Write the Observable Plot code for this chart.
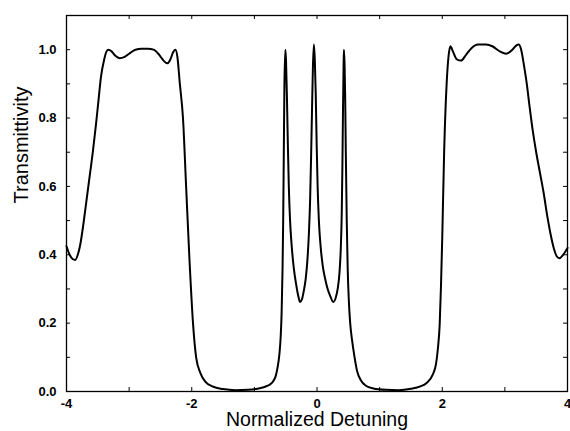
<!DOCTYPE html>
<html>
<head>
<meta charset="utf-8">
<script src="https://cdn.jsdelivr.net/npm/d3@7"></script>
<script src="https://cdn.jsdelivr.net/npm/@observablehq/plot@0.6"></script>
<style>
  html, body { margin: 0; padding: 0; background: white; }
</style>
</head>
<body>
<div id="chart"></div>
<script>
const detuning = [
  -4.00, -3.95, -3.90, -3.86, -3.82, -3.78, -3.73, -3.68, -3.63, -3.58, -3.53, -3.49, -3.45, -3.40, -3.36, -3.33,
  -3.28, -3.22, -3.15, -3.08, -3.00, -2.90, -2.80, -2.70, -2.61, -2.52, -2.45, -2.39, -2.34, -2.30, -2.26,
  -2.23, -2.19, -2.14, -2.09, -2.04, -1.98, -1.93, -1.86, -1.78, -1.67, -1.50, -1.30, -1.10, -0.90, -0.80, -0.74,
  -0.70, -0.66, -0.63, -0.60, -0.58, -0.565, -0.55, -0.54, -0.53, -0.52, -0.505, -0.495, -0.48, -0.465, -0.45, -0.43, -0.41,
  -0.37, -0.33, -0.30, -0.27, -0.24, -0.21, -0.18, -0.155, -0.13, -0.11, -0.095, -0.08, -0.065, -0.05,
  -0.035, -0.02, -0.005, 0.01, 0.03, 0.06, 0.09, 0.13, 0.17, 0.21, 0.26, 0.30, 0.33, 0.36, 0.38, 0.395, 0.405, 0.415, 0.425, 0.43,
  0.44, 0.45, 0.46, 0.475, 0.49, 0.51, 0.53, 0.56, 0.60, 0.64, 0.70, 0.78, 0.90, 1.10, 1.30, 1.50, 1.65, 1.75, 1.85, 1.90,
  1.93, 1.96, 1.98, 2.00, 2.03, 2.07, 2.10, 2.13, 2.17, 2.23, 2.30, 2.38, 2.47, 2.57, 2.70, 2.80, 2.92, 3.02, 3.12, 3.18, 3.22,
  3.26, 3.31, 3.35, 3.39, 3.44, 3.50, 3.56, 3.62, 3.68, 3.73, 3.78, 3.83, 3.87, 3.93, 4.00
];
const transmittivity = [
  0.425, 0.400, 0.387, 0.385, 0.400, 0.430, 0.490, 0.560, 0.630, 0.700, 0.780, 0.850, 0.920, 0.970, 0.995, 1.000,
  0.995, 0.982, 0.975, 0.978, 0.988, 1.000, 1.003, 1.003, 1.000, 0.985, 0.968, 0.960, 0.972, 0.992, 1.000,
  0.980, 0.900, 0.800, 0.600, 0.400, 0.200, 0.100, 0.053, 0.028, 0.015, 0.007, 0.004, 0.005, 0.010, 0.016, 0.022,
  0.030, 0.045, 0.070, 0.110, 0.160, 0.230, 0.360, 0.500, 0.700, 0.900, 1.000, 0.970, 0.860, 0.720, 0.600, 0.500, 0.440,
  0.360, 0.310, 0.280, 0.262, 0.270, 0.295, 0.330, 0.380, 0.460, 0.560, 0.680, 0.820, 0.950, 1.015,
  0.970, 0.870, 0.720, 0.600, 0.500, 0.420, 0.370, 0.330, 0.300, 0.280, 0.262, 0.275, 0.300, 0.350, 0.420, 0.520, 0.650, 0.820, 0.960, 1.000,
  0.960, 0.860, 0.700, 0.500, 0.360, 0.260, 0.200, 0.150, 0.100, 0.060, 0.033, 0.017, 0.009, 0.005, 0.004, 0.008, 0.015, 0.025, 0.050, 0.080,
  0.125, 0.200, 0.310, 0.450, 0.700, 0.900, 0.980, 1.010, 0.995, 0.972, 0.968, 0.985, 1.005, 1.015, 1.015, 1.010, 0.995, 0.988, 1.000, 1.012, 1.015,
  1.000, 0.948, 0.900, 0.840, 0.770, 0.700, 0.640, 0.580, 0.510, 0.460, 0.420, 0.395, 0.390, 0.400, 0.420
];
const xTickLabels = [-4, -2, 0, 2, 4];
const xMinorTicks = [-4, -3, -2, -1, 0, 1, 2, 3, 4];
const yTickLabels = [0, 0.2, 0.4, 0.6, 0.8, 1.0];
const yMinorTicks = [0, 0.1, 0.2, 0.3, 0.4, 0.5, 0.6, 0.7, 0.8, 0.9, 1.0, 1.1];
const xTitle = "Normalized Detuning";
const yTitle = "Transmittivity";

const data = detuning.map((x, i) => ({x, y: transmittivity[i]}));

const W = 570, H = 431, mL = 66, mR = 3, mT = 15, mB = 40;
const innerW = W - mL - mR, innerH = H - mT - mB;
const tl = 4;

const chart = Plot.plot({
  width: W, height: H,
  marginLeft: mL, marginRight: mR, marginTop: mT, marginBottom: mB,
  x: {domain: [-4, 4]},
  y: {domain: [0, 1.1]},
  style: {fontFamily: "'Liberation Sans', Arial, sans-serif", background: "white", color: "black"},
  marks: [
    Plot.tickX(xMinorTicks, {x: d => d, insetTop: innerH - tl, stroke: "black", strokeWidth: 1}),
    Plot.tickX(xMinorTicks, {x: d => d, insetBottom: innerH - tl, stroke: "black", strokeWidth: 1}),
    Plot.tickY(yMinorTicks, {y: d => d, insetRight: innerW - tl, stroke: "black", strokeWidth: 1}),
    Plot.tickY(yMinorTicks, {y: d => d, insetLeft: innerW - tl, stroke: "black", strokeWidth: 1}),
    Plot.line(data, {x: "x", y: "y", curve: "monotone-x", stroke: "black", strokeWidth: 2}),
    Plot.frame({stroke: "black", strokeWidth: 1.3}),
    Plot.axisX(xTickLabels, {tickSize: 0, tickPadding: 7, tickFormat: d => String(d), fontSize: 13, fontWeight: "bold", fill: "black", label: null}),
    Plot.axisY(yTickLabels, {tickSize: 0, tickPadding: 10, tickFormat: d3.format(".1f"), fontSize: 13, fontWeight: "bold", fill: "black", label: null}),
    Plot.text([xTitle], {text: d => d, frameAnchor: "bottom", lineAnchor: "bottom", dy: 34, fontSize: 19.5, fill: "black"}),
    Plot.text([yTitle], {text: d => d, frameAnchor: "left", lineAnchor: "middle", dx: -45, rotate: -90, fontSize: 20, fill: "black"})
  ]
});
document.getElementById("chart").appendChild(chart);
</script>
</body>
</html>
